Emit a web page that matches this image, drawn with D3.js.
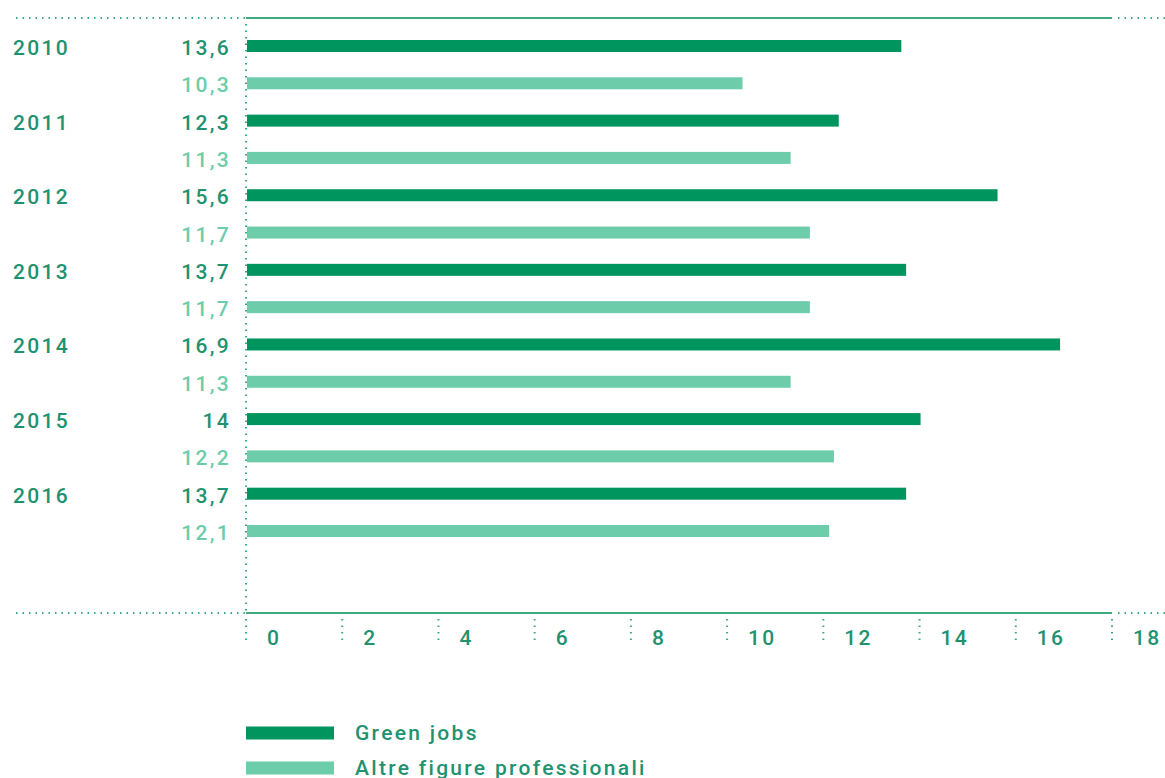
<!DOCTYPE html>
<html>
<head>
<meta charset="utf-8">
<script src="https://cdn.jsdelivr.net/npm/d3@7"></script>
<style>
  body { margin: 0; background: #fff; }
  svg text { font-family: Roboto, "Liberation Sans", Arial, sans-serif; font-weight: 500; }
</style>
</head>
<body>
<div id="chart"></div>
<script>
// Green jobs vs altre figure professionali, 2010-2016
const years = ["2010", "2011", "2012", "2013", "2014", "2015", "2016"];
const greenJobs = [13.6, 12.3, 15.6, 13.7, 16.9, 14, 13.7];
const altreFigure = [10.3, 11.3, 11.7, 11.7, 11.3, 12.2, 12.1];
const xTicks = [0, 2, 4, 6, 8, 10, 12, 14, 16, 18];
const seriesNames = ["Green jobs", "Altre figure professionali"];

const colors = { dark: "#00945e", light: "#6dcdab", line: "#3aac7e", darkText: "#1f9270", lightText: "#6dcdab" };

const W = 1165, H = 778;
const x0 = 246, x1 = 1112, yTop = 18, yBottom = 613;
const fontSize = 21, spacing = 2.3;

// flatten to one row per bar
const rows = [];
years.forEach((yr, i) => {
    rows.push({ key: yr + "-g", year: yr, value: greenJobs[i], type: "dark" });
    rows.push({ key: yr + "-a", year: yr, value: altreFigure[i], type: "light" });
});

const svg = d3.select("#chart").append("svg")
    .attr("width", W)
    .attr("height", H);

const x = d3.scaleLinear().domain([0, 18]).range([x0, x1]);
const y = d3.scalePoint().domain(rows.map(d => d.key)).range([46, 531]);
const barH = 12;

const fmt = v => String(v).replace(".", ",");

// frame lines
[yTop, yBottom].forEach(yy => {
    svg.append("line")
        .attr("x1", x0).attr("x2", x1).attr("y1", yy).attr("y2", yy)
        .attr("stroke", colors.line).attr("stroke-width", 2);
    // dotted extensions
    svg.append("line")
        .attr("x1", 16).attr("x2", x0).attr("y1", yy).attr("y2", yy)
        .attr("stroke", colors.line).attr("stroke-width", 2)
        .attr("stroke-dasharray", "1.5,5");
    svg.append("line")
        .attr("x1", x1 + 6).attr("x2", W).attr("y1", yy).attr("y2", yy)
        .attr("stroke", colors.line).attr("stroke-width", 2)
        .attr("stroke-dasharray", "1.5,5");
});

// vertical dotted axis
svg.append("line")
    .attr("x1", x0).attr("x2", x0).attr("y1", yTop + 6).attr("y2", yBottom)
    .attr("stroke", colors.line).attr("stroke-width", 2)
    .attr("stroke-dasharray", "1.5,5");

// x ticks
const ticks = svg.append("g").selectAll("g")
    .data(xTicks)
    .enter().append("g")
    .attr("transform", d => `translate(${x(d)},0)`);

ticks.append("line")
    .attr("y1", yBottom + 6).attr("y2", yBottom + 30)
    .attr("stroke", colors.line).attr("stroke-width", 2)
    .attr("stroke-dasharray", "1.5,5");

ticks.append("text")
    .attr("x", 21)
    .attr("y", yBottom + 32)
    .attr("fill", colors.darkText)
    .attr("font-size", fontSize)
    .attr("letter-spacing", spacing)
    .text(d => d);

// bars
svg.selectAll(".bar")
    .data(rows)
    .enter().append("rect")
    .attr("class", "bar")
    .attr("x", x(0) + 1)
    .attr("y", d => y(d.key) - barH / 2)
    .attr("width", d => x(d.value) - x(0))
    .attr("height", barH)
    .attr("fill", d => colors[d.type]);

// value labels
svg.selectAll(".val")
    .data(rows)
    .enter().append("text")
    .attr("class", "val")
    .attr("x", 231)
    .attr("y", d => y(d.key) + 9)
    .attr("text-anchor", "end")
    .attr("fill", d => d.type === "dark" ? colors.darkText : colors.lightText)
    .attr("font-size", fontSize)
    .attr("letter-spacing", spacing)
    .text(d => fmt(d.value));

// year labels
svg.selectAll(".year")
    .data(rows.filter(d => d.type === "dark"))
    .enter().append("text")
    .attr("class", "year")
    .attr("x", 13)
    .attr("y", d => y(d.key) + 9)
    .attr("fill", colors.darkText)
    .attr("font-size", fontSize)
    .attr("letter-spacing", spacing)
    .text(d => d.year);

// legend
const legend = svg.append("g")
    .selectAll("g")
    .data(seriesNames)
    .enter().append("g")
    .attr("transform", (d, i) => `translate(246,${733 + i * 35})`);

legend.append("rect")
    .attr("y", -6.5)
    .attr("width", 88)
    .attr("height", 13)
    .attr("fill", (d, i) => i === 0 ? colors.dark : colors.light);

legend.append("text")
    .attr("x", 109)
    .attr("y", 7)
    .attr("fill", colors.darkText)
    .attr("font-size", fontSize)
    .attr("letter-spacing", spacing)
    .text(d => d);
</script>
</body>
</html>
